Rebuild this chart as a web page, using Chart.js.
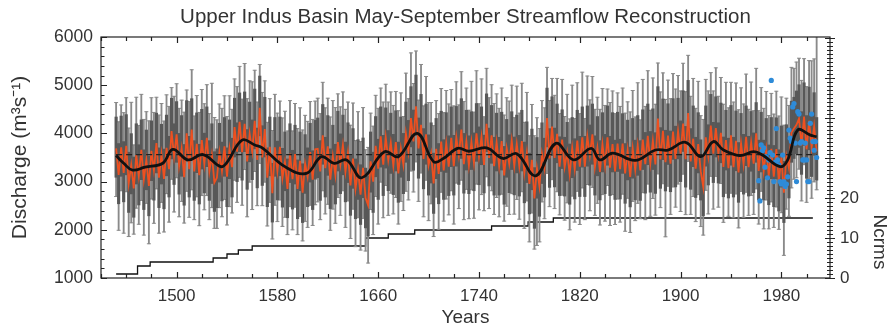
<!DOCTYPE html>
<html>
<head>
<meta charset="utf-8">
<script src="https://cdn.jsdelivr.net/npm/chart.js@4.4.1/dist/chart.umd.min.js"></script>
<style>html,body{margin:0;padding:0;background:#fff}canvas{display:block}</style>
</head>
<body>
<canvas id="grafico" width="892" height="329"></canvas>
<script>
// Reconstruccion (un valor cada 2 años desde 1452), m3/s
const reconStart = 1452;
const reconStep = 2;
const recon = [
  3690, 3140, 3710, 3180, 3740, 2960, 3345, 2860, 3550, 3115,
  3660, 3040, 3450, 2910, 3640, 3235, 3800, 3080, 3570, 3055,
  3700, 3260, 4050, 3520, 3980, 3320, 3690, 3090, 4000, 3260,
  4080, 3210, 3785, 3135, 3860, 3365, 3910, 3210, 3560, 2980,
  3080, 3610, 3220, 3730, 3100, 3680, 3300, 4130, 3620, 4240,
  3610, 4200, 3420, 3990, 3620, 4260, 3450, 4530, 3500, 4090,
  3080, 3720, 2760, 3710, 3220, 3720, 3070, 3410, 2850, 3580,
  3050, 3570, 2850, 3430, 2770, 3375, 3100, 3610, 3040, 3670,
  3680, 3210, 3960, 3280, 3730, 3040, 3530, 3135, 3820, 3350,
  3760, 3200, 3600, 2920, 3480, 2850, 3250, 2730, 3285, 2660,
  2510, 3420, 3000, 3740, 3270, 3940, 3350, 3920, 3450, 3810,
  3330, 3820, 3170, 3690, 3350, 4000, 3620, 4320, 3835, 4560,
  3690, 4180, 3470, 3980, 3340, 3590, 2960, 3680, 3160, 3830,
  3230, 3790, 3310, 3910, 3320, 3920, 3540, 4080, 3360, 3840,
  3330, 3830, 3390, 4000, 3515, 3930, 3345, 4200, 3490, 3960,
  3320, 3820, 3320, 3840, 3130, 3690, 3370, 3850, 3325, 3780,
  3320, 3840, 3180, 3600, 2950, 3450, 2650, 3275, 2900, 3580,
  3280, 4320, 3480, 4140, 3490, 3990, 3310, 3870, 3300, 3610,
  3150, 3700, 3260, 3850, 3310, 3920, 3310, 3940, 3545, 3980,
  3300, 3700, 3200, 3780, 3330, 3920, 3290, 3780, 3210, 3790,
  3260, 3790, 3170, 3655, 3095, 3690, 3240, 3750, 3230, 3870,
  3360, 3950, 3380, 3850, 3355, 4310, 3460, 4055, 3405, 3955,
  3370, 4040, 3470, 4050, 3580, 4205, 3465, 4420, 3420, 3890,
  3270, 3780, 3217, 2890, 3920, 3530, 4160, 3580, 4110, 3570,
  4010, 3305, 3860, 3280, 3960, 3300, 3845, 3190, 3795, 3360,
  3930, 3300, 3815, 3370, 4000, 3220, 3800, 3220, 3670, 3120,
  3680, 3100, 3675, 3010, 3505, 2770, 3530, 3280, 4020, 4100,
  4180, 4310, 3750, 4350, 3670, 4260, 3705, 4145, 3630
];

// Intervalo (bigotes): distancia hacia arriba / abajo de cada valor
const errUp = [
  950, 1100, 880, 1250, 1000, 1150, 1300, 900, 1200, 1050,
  1150, 1250, 1000, 1350, 1100, 1200, 950, 1300, 1050, 1200,
  1100, 1300, 900, 1250, 1050, 1200, 1000, 1350, 900, 1400,
  1240, 1150, 1000, 1300, 1050, 1250, 1100, 1200, 1480, 1350,
  1200, 1000, 1300, 1050, 1250, 1100, 1200, 1000, 1350, 1150,
  1100, 1250, 1300, 1100, 1450, 1050, 1200, 900, 1350, 1000,
  1150, 1000, 1300, 1100, 1200, 950, 1250, 1050, 1200, 1100,
  1000, 1050, 1250, 1100, 1300, 1000, 1150, 1050, 1250, 1000,
  1050, 1200, 1100, 1250, 1000, 1300, 1150, 1400, 1000, 1200,
  1100, 1300, 1050, 1250, 1150, 1000, 1200, 1100, 1250, 1000,
  1200, 1000, 1150, 1050, 1250, 1000, 1300, 1100, 1200, 1050,
  1250, 1050, 1300, 1150, 1000, 1250, 1100, 1350, 1200, 1150,
  1000, 1250, 1100, 1200, 1300, 1050, 1200, 1000, 1250, 1100,
  1200, 1100, 1300, 1000, 1250, 1150, 1050, 1200, 1300, 1100,
  1150, 1250, 1050, 1300, 1100, 1200, 1000, 1150, 1250, 1050,
  1300, 1000, 1200, 1100, 1250, 1050, 1300, 1150, 1000, 1200,
  1100, 1200, 1050, 1250, 1000, 1150, 1300, 1050, 1200, 1100,
  1250, 1050, 1200, 1000, 1300, 1150, 1100, 1250, 1050, 1200,
  1150, 1300, 1050, 1200, 1100, 1350, 1000, 1250, 1150, 1200,
  1200, 1050, 1300, 1150, 1250, 1000, 1350, 1100, 1200, 1050,
  1300, 1150, 1250, 1000, 1350, 1200, 1100, 1300, 1050, 1250,
  1200, 1350, 1100, 1300, 1250, 1150, 1400, 1200, 1300, 1150,
  1350, 1200, 1450, 1150, 1300, 1250, 1400, 1200, 1350, 1250,
  1250, 1300, 1150, 1400, 1200, 1350, 1100, 1300, 1250, 1200,
  1150, 1300, 1200, 1250, 1100, 1350, 1200, 1300, 1150, 1250,
  1300, 1200, 1250, 1100, 1350, 1250, 1150, 1300, 1200, 1250,
  1150, 1300, 1200, 1350, 1250, 1400, 1200, 1300, 1350, 1250,
  1300, 1250, 1350, 1200, 1300, 1250, 1800, 1400, 2600
];
const errDn = [
  1000, 1150, 900, 1250, 950, 1100, 1200, 950, 1100, 1000,
  1050, 1150, 900, 1200, 1000, 1100, 950, 1150, 1000, 1100,
  950, 1100, 1000, 1150, 900, 1050, 1100, 950, 1200, 1000,
  1250, 1000, 1100, 1050, 1150, 950, 1200, 1000, 1100, 950,
  1050, 1150, 950, 1100, 1000, 1200, 950, 1100, 1050, 1150,
  1100, 950, 1150, 1000, 1200, 1050, 950, 1150, 1000, 1100,
  1000, 1150, 950, 1200, 1050, 1100, 1000, 1150, 950, 1100,
  1050, 1100, 950, 1150, 1000, 1200, 1050, 1100, 950, 1150,
  1100, 1000, 1150, 950, 1200, 1050, 1100, 1000, 1150, 1050,
  950, 1150, 1000, 1100, 1050, 1200, 1000, 1150, 1050, 1100,
  1200, 1000, 1100, 1050, 1150, 950, 1100, 1000, 1150, 1050,
  1000, 1150, 1050, 1100, 950, 1200, 1000, 1100, 1050, 1150,
  1100, 1000, 1200, 950, 1150, 1050, 1100, 1000, 1150, 1050,
  1050, 1150, 1000, 1100, 1200, 950, 1100, 1050, 1150, 1000,
  1100, 1000, 1150, 1050, 1100, 1200, 950, 1100, 1050, 1150,
  1000, 1150, 1050, 1100, 950, 1200, 1050, 1100, 1000, 1150,
  1100, 1050, 1150, 1000, 1200, 1100, 1050, 1600, 1150, 1000,
  1050, 1150, 1000, 1100, 1050, 1200, 1000, 1150, 1100, 1050,
  1150, 1000, 1100, 1050, 1200, 1050, 1100, 1000, 1150, 1100,
  1000, 1150, 1100, 1050, 1150, 1000, 1200, 1050, 1100, 1150,
  1100, 1050, 1200, 1000, 1150, 1100, 1050, 1200, 1000, 1100,
  1150, 1000, 1100, 1200, 1050, 1150, 1000, 1100, 1550, 1050,
  1050, 1150, 1000, 1100, 1200, 1050, 1150, 1000, 1100, 1200,
  1100, 1050, 1150, 1000, 1100, 1200, 1050, 1150, 1000, 1100,
  1050, 1150, 1100, 1000, 1200, 1050, 1100, 1150, 1000, 1100,
  1150, 1000, 1100, 1050, 1150, 1100, 1000, 1200, 1050, 1100,
  1100, 1050, 1200, 1000, 1150, 1300, 1100, 1000, 1150, 1050,
  1100, 1050, 1150, 1000, 1100, 1200, 1050, 1150, 800
];

// Error (barra oscura), un valor por bloque de 20 años
const seUp = [650, 620, 680, 640, 600, 660, 620, 600, 640, 620, 610, 650, 630, 640,
              620, 600, 640, 620, 630, 650, 620, 660, 680, 650, 620, 640, 650, 700];
const seDn = [600, 620, 580, 600, 620, 580, 600, 620, 600, 620, 640, 600, 620, 600,
              580, 600, 620, 600, 620, 580, 620, 600, 580, 600, 620, 600, 620, 600];

// Curva suavizada
const splineYears = [1452, 1458, 1465, 1475, 1489, 1497, 1509, 1521, 1535, 1540,
  1552, 1562, 1568, 1586, 1603, 1615, 1625, 1635, 1647, 1665, 1676, 1691, 1704, 1712,
  1723, 1732, 1746, 1759, 1770, 1785, 1801, 1815, 1829, 1836, 1846, 1864, 1880, 1890,
  1904, 1916, 1926, 1934, 1947, 1958, 1965, 1979, 1985, 1993, 2003, 2008];
const splineFlow = [3540, 3380, 3240, 3300, 3380, 3670, 3450, 3560, 3310, 3400,
  3860, 3760, 3700, 3310, 3170, 3517, 3380, 3450, 3080, 3620, 3517, 4000, 3414, 3483,
  3690, 3630, 3700, 3480, 3580, 3120, 3793, 3450, 3690, 3450, 3590, 3440, 3655, 3655,
  3815, 3517, 3830, 3655, 3540, 3620, 3552, 3310, 3450, 4070, 3963, 3930];

const meanFlow = 3560;

// Caudal observado 1962-2008
const obsStart = 1962;
const observed = [3020, 2600, 3760, 3640, 3700, 3300, 3520, 3080, 3450, 3600,
  5100, 3550, 3000, 3400, 4100, 3450, 3350, 3000, 2950, 3550,
  3000, 2900, 2950, 3100, 4070, 3900, 3830, 4550, 4620, 3800,
  3000, 4450, 4400, 3800, 3830, 3450, 3450, 3800, 3450, 3000,
  3000, 4210, 4400, 3830, 3650, 3830, 3500];

// Numero de cronologias (eje derecho)
const ncrmsYears = [1452, 1469, 1479, 1529, 1540, 1549, 1560, 1650, 1668, 1689, 1750, 1779, 1799, 2005];
const ncrms = [1, 3, 4, 5, 6, 7, 8, 10, 11, 12, 13, 14, 15, 15];

const xTicks = [1500, 1580, 1660, 1740, 1820, 1900, 1980];
const yTicks = [1000, 2000, 3000, 4000, 5000, 6000];
const y2Ticks = [0, 10, 20];

// ======================================================
// Armado de datos para Chart.js
// ======================================================
const anios = recon.map((v, i) => reconStart + i * reconStep);
const bloque = i => Math.floor(i / 10);
const barrasIntervalo = recon.map((v, i) => ({ x: anios[i], y: [v - errDn[i], v + errUp[i]] }));
const barrasError = recon.map((v, i) => ({ x: anios[i], y: [v - seDn[bloque(i)], v + seUp[bloque(i)]] }));
const lineaRecon = recon.map((v, i) => ({ x: anios[i], y: v }));
const lineaSpline = splineFlow.map((v, i) => ({ x: splineYears[i], y: v }));
const lineaMedia = [{ x: anios[0], y: meanFlow }, { x: anios[anios.length - 1], y: meanFlow }];
const puntosObs = observed.map((v, i) => ({ x: obsStart + i, y: v }));
const escalones = ncrms.map((v, i) => ({ x: ncrmsYears[i], y: v }));

const colorTexto = '#333';
Chart.defaults.font.family = "'Liberation Sans', Arial, sans-serif";
Chart.defaults.color = colorTexto;

// Tapas de los bigotes
const tapasPlugin = {
    id: 'tapas',
    afterDatasetDraw(chart, args) {
        if (chart.data.datasets[args.index].label !== 'intervalo') return;
        const { ctx, chartArea: a } = chart;
        ctx.save();
        ctx.beginPath();
        ctx.rect(a.left, a.top, a.right - a.left, a.bottom - a.top);
        ctx.clip();
        ctx.strokeStyle = '#8a8a8a';
        ctx.lineWidth = 1;
        ctx.beginPath();
        args.meta.data.forEach(el => {
            const p = el.getProps(['x', 'y', 'base'], true);
            ctx.moveTo(p.x - 2, p.y); ctx.lineTo(p.x + 2, p.y);
            ctx.moveTo(p.x - 2, p.base); ctx.lineTo(p.x + 2, p.base);
        });
        ctx.stroke();
        ctx.restore();
    }
};

// Marco, marcas de ejes y titulo derecho
const ejesPlugin = {
    id: 'ejes',
    afterDraw(chart) {
        const { ctx, chartArea: a, scales } = chart;
        ctx.save();
        ctx.strokeStyle = '#222';
        ctx.lineWidth = 1.2;
        ctx.strokeRect(a.left, a.top, a.right - a.left, a.bottom - a.top);
        ctx.beginPath();
        for (let v = 1440; v <= 2018; v += 20) {
            const px = Math.round(scales.x.getPixelForValue(v)) + 0.5;
            const len = xTicks.includes(v) ? 6 : 4;
            ctx.moveTo(px, a.bottom); ctx.lineTo(px, a.bottom - len);
            ctx.moveTo(px, a.top); ctx.lineTo(px, a.top + len);
        }
        for (let v = 1000; v <= 6000; v += 200) {
            const py = Math.round(scales.y.getPixelForValue(v)) + 0.5;
            const len = v % 1000 === 0 ? 6 : 3.5;
            ctx.moveTo(a.left, py); ctx.lineTo(a.left + len, py);
        }
        for (let v = 0; v <= 60; v += 1) {
            const py = Math.round(scales.y2.getPixelForValue(v)) + 0.5;
            const len = v % 10 === 0 ? 5 : 3;
            ctx.moveTo(a.right - len, py); ctx.lineTo(a.right + len, py);
        }
        ctx.stroke();

        ctx.fillStyle = colorTexto;
        ctx.font = "19px 'Liberation Sans', Arial, sans-serif";
        ctx.textAlign = 'center';
        ctx.textBaseline = 'middle';
        ctx.translate(a.right + 49, scales.y2.getPixelForValue(9));
        ctx.rotate(Math.PI / 2);
        ctx.fillText('Ncrms', 0, 0);
        ctx.restore();
    }
};

new Chart(document.getElementById('grafico'), {
    type: 'bar',
    plugins: [tapasPlugin, ejesPlugin],
    data: {
        datasets: [
            {
                type: 'line', label: 'ncrms', data: escalones, yAxisID: 'y2',
                stepped: 'before', borderColor: '#111', borderWidth: 1.3,
                pointRadius: 0, order: 8
            },
            {
                label: 'intervalo', data: barrasIntervalo, grouped: false,
                barThickness: 1.2, backgroundColor: '#8a8a8a', order: 7
            },
            {
                label: 'error', data: barrasError, grouped: false,
                barThickness: 2.5, backgroundColor: '#585858', order: 6
            },
            {
                type: 'line', label: 'reconstruccion', data: lineaRecon,
                borderColor: '#ee5020', borderWidth: 1.8, pointRadius: 0, order: 5
            },
            {
                type: 'line', label: 'media', data: lineaMedia,
                borderColor: '#222', borderWidth: 1.2, borderDash: [6, 4], pointRadius: 0, order: 4
            },
            {
                type: 'line', label: 'observado', data: puntosObs, showLine: false,
                pointRadius: 2.6, pointBackgroundColor: '#2e8bd8', pointBorderWidth: 0, order: 3
            },
            {
                type: 'line', label: 'spline', data: lineaSpline,
                borderColor: '#111', borderWidth: 2.8, tension: 0.4, pointRadius: 0, order: 2
            }
        ]
    },
    options: {
        responsive: false,
        animation: false,
        devicePixelRatio: 1,
        layout: { padding: 0 },
        plugins: {
            legend: { display: false },
            tooltip: { enabled: false },
            title: {
                display: true, fullSize: false,
                text: 'Upper Indus Basin May-September Streamflow Reconstruction',
                color: colorTexto, font: { size: 20.5, weight: 'normal' },
                padding: { top: 5, bottom: 7.4 }
            }
        },
        scales: {
            x: {
                type: 'linear', min: 1440, max: 2018.6, offset: false,
                grid: { display: false, drawTicks: false }, border: { display: false },
                afterBuildTicks: s => { s.ticks = xTicks.map(v => ({ value: v })); },
                afterFit: s => { s.height = 51; },
                ticks: { font: { size: 17 }, padding: 8, maxRotation: 0, autoSkip: false, callback: v => String(v) },
                title: { display: true, text: 'Years', font: { size: 19 }, padding: { top: 0, bottom: 0 } }
            },
            y: {
                position: 'left', min: 1000, max: 6000,
                grid: { display: false, drawTicks: false }, border: { display: false },
                afterBuildTicks: s => { s.ticks = yTicks.map(v => ({ value: v })); },
                afterFit: s => { s.width = 101; },
                ticks: { font: { size: 17.5 }, padding: 8, callback: v => String(v) },
                title: { display: true, text: 'Discharge (m³s⁻¹)', font: { size: 21 }, padding: { top: 8, bottom: 0 } }
            },
            y2: {
                position: 'right', min: 0, max: 60.25,
                grid: { display: false, drawTicks: false }, border: { display: false },
                afterBuildTicks: s => { s.ticks = y2Ticks.map(v => ({ value: v })); },
                afterFit: s => { s.width = 62; },
                ticks: { font: { size: 17 }, padding: 10, callback: v => String(v) }
            }
        }
    }
});
</script>
</body>
</html>
